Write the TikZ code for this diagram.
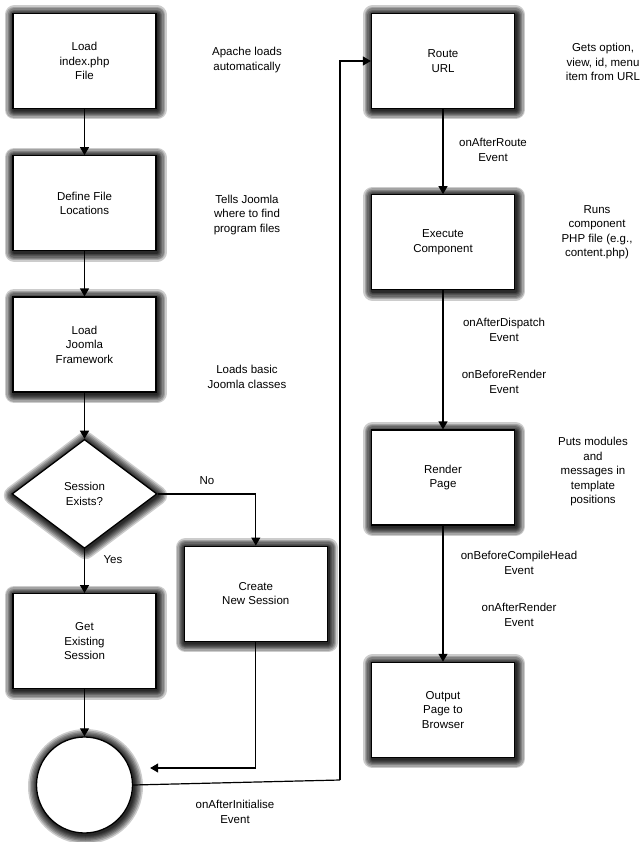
\documentclass[tikz,border=0pt]{standalone}
\usepackage{fontspec}
\setmainfont{Liberation Sans}
\usepackage{tikz}
\usetikzlibrary{arrows.meta,positioning,shapes.geometric,calc}
\tikzset{
  glowring/.style={preaction={draw=black, fill=none, draw opacity=0.2, line width=#1,
      line join=round, transform canvas={shift={(1pt,-1.5pt)}}}},
  glow/.style={glowring=19pt, glowring=16pt, glowring=13pt, glowring=10.5pt,
      glowring=8pt, glowring=6pt, glowring=4pt, glowring=2.5pt},
  stepbox/.style={
    draw=black, fill=white, line width=1.3pt, glow,
    minimum width=143pt, minimum height=95pt, align=center,
    font=\fontsize{11.5}{14.5}\selectfont,
  },
  decision/.style={
    diamond, draw=black, fill=white, line width=1.3pt, glow,
    minimum width=145pt, minimum height=109pt, inner sep=0pt, aspect=1.33,
    align=center, font=\fontsize{11.5}{14.5}\selectfont,
  },
  joinpt/.style={
    circle, draw=black, fill=white, line width=1.3pt, glow,
    minimum size=96pt, inner sep=0pt,
  },
  note/.style={align=center, font=\fontsize{11.5}{14.5}\selectfont},
  arrow/.style={-{Triangle[length=8pt,width=9pt]}, line width=1.2pt},
  link/.style={line width=1.2pt},
}
\begin{document}
\begin{tikzpicture}[x=1pt, y=1pt]
  \useasboundingbox (0,0) rectangle (639,-842);

  % left column: start-up
  \node[stepbox] (load) at (84.5,-61) {Load\\index.php\\File};
  \node[stepbox, below=46pt of load] (define) {Define File\\Locations};
  \node[stepbox, below=45pt of define] (framework) {Load\\Joomla\\Framework};
  \node[decision, below=46pt of framework] (sess) {Session\\Exists?};
  \node[stepbox, below=44pt of sess] (getsess) {Get\\Existing\\Session};
  \node[stepbox, right=27pt of getsess, yshift=47.5pt] (newsess) {Create\\New Session};
  \node[joinpt, below=47pt of getsess] (init) {};

  % right column: request
  \node[stepbox] (route) at (443,-61) {Route\\URL};
  \node[stepbox, below=85pt of route] (execute) {Execute\\Component};
  \node[stepbox, below=139pt of execute] (render) {Render\\Page};
  \node[stepbox, below=136pt of render] (output) {Output\\Page to\\Browser};

  % side notes
  \node[note] (n1) at (247,-60) {Apache loads\\automatically};
  \node[note] (n2) at (247,-215) {Tells Joomla\\where to find\\program files};
  \node[note] (n3) at (247,-377) {Loads basic\\Joomla classes};
  \node[note] (n4) at (603,-62) {Gets option,\\view, id, menu\\item from URL};
  \node[note] (n5) at (597,-232) {Runs\\component\\PHP file (e.g.,\\content.php)};
  \node[note] (n6) at (593,-472) {Puts modules\\and\\messages in\\template\\positions};

  % events
  \node[note] (e1) at (493,-150) {onAfterRoute\\Event};
  \node[note] (e2) at (504,-330) {onAfterDispatch\\Event};
  \node[note] (e3) at (504,-382) {onBeforeRender\\Event};
  \node[note] (e4) at (519,-563) {onBeforeCompileHead\\Event};
  \node[note] (e5) at (519,-615) {onAfterRender\\Event};
  \node[note] (e6) at (235,-812) {onAfterInitialise\\Event};
  \node[note] (no) at (207,-481) {No};
  \node[note] (yes) at (113,-560) {Yes};

  \coordinate (back) at ([xshift=17pt, yshift=17pt]init.east);
  \coordinate (turn) at (340,-780);

  \draw[arrow] (load) -- (define);
  \draw[arrow] (define) -- (framework);
  \draw[arrow] (framework) -- (sess);
  \draw[arrow] (sess) -- (getsess);
  \draw[arrow] (sess.east) -| (newsess.north);
  \draw[arrow] (getsess) -- (init);
  \draw[arrow] (newsess.south) |- (back);
  \draw[link] (init.east) -- (turn);
  \draw[arrow] (turn) |- (route.west);
  \draw[arrow] (route) -- (execute);
  \draw[arrow] (execute) -- (render);
  \draw[arrow] (render) -- (output);

\end{tikzpicture}
\end{document}
